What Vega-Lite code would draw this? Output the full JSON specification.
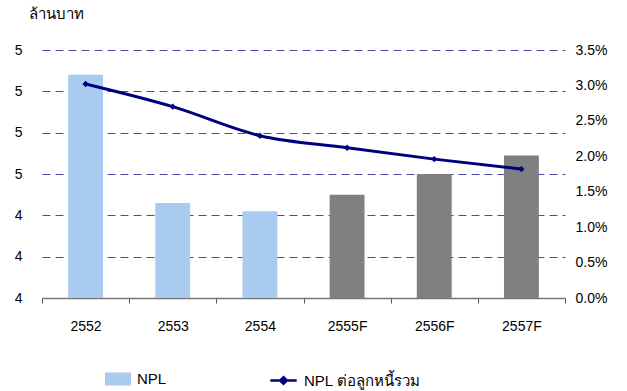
{
  "$schema": "https://vega.github.io/schema/vega-lite/v6.json",
  "width": 523,
  "height": 248,
  "autosize": {"type": "none"},
  "padding": {"left": 42, "top": 50, "right": 62, "bottom": 93},
  "background": "white",
  "config": {
    "font": "Liberation Sans",
    "view": {"stroke": null},
    "axis": {"labelFont": "Liberation Sans", "labelFontSize": 14, "labelColor": "#000", "titleFont": "Liberation Sans", "zindex": 0},
    "legend": {"labelFont": "Liberation Sans", "labelFontSize": 15, "labelColor": "#000", "labelOffset": 6, "padding": 0}
  },
  "data": {
    "values": [
      {"year": "2552", "npl": 5.08, "ratio": 0.0302, "kind": "NPL"},
      {"year": "2553", "npl": 4.46, "ratio": 0.0270, "kind": "F"},
      {"year": "2554", "npl": 4.42, "ratio": 0.0229, "kind": "NPL"},
      {"year": "2555F", "npl": 4.50, "ratio": 0.0212, "kind": "Forecast"},
      {"year": "2556F", "npl": 4.60, "ratio": 0.0196, "kind": "Forecast"},
      {"year": "2557F", "npl": 4.69, "ratio": 0.0182, "kind": "Forecast"}
    ]
  },
  "encoding": {
    "x": {
      "field": "year", "type": "nominal", "sort": null,
      "scale": {"paddingInner": 0, "paddingOuter": 0},
      "axis": {"title": null, "labelAngle": 0, "labelPadding": 16, "tickBand": "extent", "tickSize": 5, "tickColor": "#555", "domainColor": "#777", "domainWidth": 1.5}
    }
  },
  "layer": [
    {
      "mark": {"type": "bar", "width": {"band": 0.4}},
      "encoding": {
        "y": {
          "field": "npl", "type": "quantitative",
          "scale": {"domain": [4, 5.2], "nice": false, "zero": false},
          "axis": {"orient": "left", "values": [4, 4.2, 4.4, 4.6, 4.8, 5.0, 5.2], "format": ".0f", "domain": false, "ticks": false, "labelPadding": 20,
            "grid": true, "gridDash": [8, 5], "gridColor": "#4a4aa6", "gridWidth": 1,
            "title": "ล้านบาท", "titleAngle": 0, "titleAlign": "left", "titleBaseline": "top", "titleX": -14, "titleY": -44, "titleFontSize": 15, "titleFontWeight": "normal", "titleColor": "#000"}
        },
        "y2": {"datum": 4},
        "color": {
          "field": "kind", "type": "nominal",
          "scale": {"domain": ["NPL", "F", "Forecast"], "range": ["#a9cbf0", "#a9cbf0", "#808080"]},
          "legend": {"values": ["NPL"], "title": null, "orient": "none", "legendX": 63, "legendY": 316, "symbolType": "M-1,-0.5H1V0.5H-1Z", "symbolSize": 676, "symbolStrokeWidth": 0}
        }
      }
    },
    {
      "mark": {"type": "line", "interpolate": "monotone", "strokeWidth": 3, "point": {"shape": "diamond", "size": 40, "filled": true}},
      "encoding": {
        "y": {
          "field": "ratio", "type": "quantitative",
          "scale": {"domain": [0, 0.035], "nice": false},
          "axis": {"orient": "right", "values": [0, 0.005, 0.01, 0.015, 0.02, 0.025, 0.03, 0.035], "format": ".1%", "domain": false, "ticks": false, "labelPadding": 10, "grid": false, "title": null}
        },
        "color": {
          "datum": "NPL ต่อลูกหนี้รวม", "type": "nominal",
          "scale": {"range": ["#000080"]},
          "legend": {"title": null, "orient": "none", "legendX": 227, "legendY": 316, "symbolType": "M-1,0L1,0M0,-0.25L0.25,0L0,0.25L-0.25,0Z", "symbolSize": 700, "symbolStrokeWidth": 2.5}
        }
      }
    }
  ],
  "resolve": {"scale": {"y": "independent", "color": "independent"}}
}
